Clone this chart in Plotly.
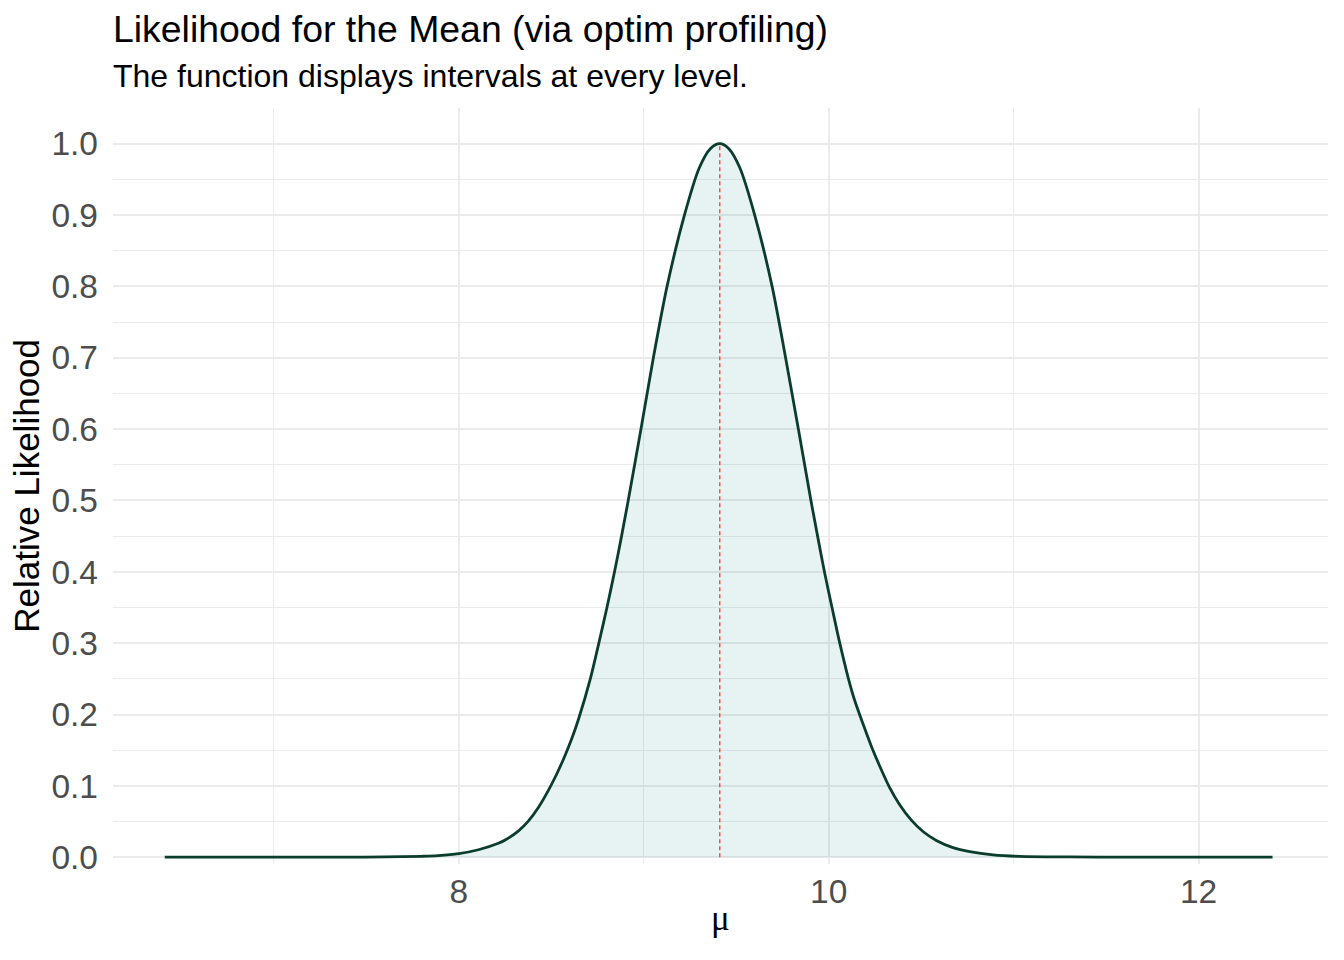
import plotly.graph_objects as go

# Profile likelihood
mu = [6.41, 7.0, 7.4, 7.6, 7.8, 7.889, 8.0, 8.106, 8.214, 8.253, 8.323, 8.377,
      8.431, 8.485, 8.530, 8.575, 8.612, 8.648, 8.711, 8.757, 8.801, 8.842,
      8.880, 8.916, 8.985, 9.052, 9.126, 9.220, 9.30, 9.36, 9.411, 9.46, 9.52,
      9.600, 9.694, 9.767, 9.836, 9.904, 9.940, 9.977, 10.018, 10.060, 10.107,
      10.139, 10.184, 10.230, 10.284, 10.329, 10.383, 10.447, 10.510, 10.582,
      10.672, 10.763, 10.889, 11.034, 11.3, 11.6, 12.0, 12.40]
rel_lik = [0.0, 0.0, 0.0001, 0.0004, 0.0013, 0.0022, 0.0050, 0.0105, 0.0196,
           0.0245, 0.037, 0.051, 0.070, 0.094, 0.117, 0.143, 0.167, 0.194, 0.25,
           0.30, 0.35, 0.40, 0.45, 0.50, 0.60, 0.70, 0.80, 0.90, 0.966, 0.993,
           1.0, 0.993, 0.966, 0.90, 0.80, 0.70, 0.60, 0.50, 0.45, 0.40, 0.35,
           0.30, 0.25, 0.221, 0.188, 0.156, 0.123, 0.098, 0.074, 0.052, 0.036,
           0.0235, 0.0135, 0.0078, 0.0033, 0.0012, 0.0004, 0.0001, 0.0, 0.0]
mle = 9.411

x_ticks = [8, 10, 12]
y_ticks = [0.0, 0.1, 0.2, 0.3, 0.4, 0.5, 0.6, 0.7, 0.8, 0.9, 1.0]

font = "Liberation Sans, Arial, sans-serif"
grid = "#EBEBEB"

fig = go.Figure()

# curve with shaded area underneath
fig.add_trace(go.Scatter(
    x=mu, y=rel_lik, mode="lines",
    line=dict(color="#0B3D2C", width=2.8, shape="spline", smoothing=0.8),
    fill="tozeroy", fillcolor="rgba(0,128,128,0.094)",
    hoverinfo="x+y", showlegend=False,
))

# dashed line at the maximum
fig.add_trace(go.Scatter(
    x=[mle, mle], y=[0, 1], mode="lines",
    line=dict(color="#F04A3C", width=1.4, dash="4px,3px"),
    hoverinfo="skip", showlegend=False,
))

# page body has an 8px margin, so the figure is 8px smaller and margins shifted
fig.update_layout(
    width=1336, height=952,
    margin=dict(l=105, r=16, t=100, b=96),
    paper_bgcolor="white", plot_bgcolor="white",
    font=dict(family=font, color="#4D4D4D"),
    xaxis=dict(
        range=[6.13, 12.70], tickvals=x_ticks, ticktext=[str(v) for v in x_ticks],
        showgrid=True, gridcolor=grid, gridwidth=2, zeroline=False,
        showline=False, ticks="", ticklabelstandoff=4,
        tickfont=dict(size=33.5, color="#4D4D4D"),
        minor=dict(tickvals=[7, 9, 11], showgrid=True, gridcolor=grid, gridwidth=1),
    ),
    yaxis=dict(
        range=[-0.0095, 1.05], tickvals=y_ticks, ticktext=[f"{v:.1f}" for v in y_ticks],
        showgrid=True, gridcolor=grid, gridwidth=2, zeroline=False,
        showline=False, ticks="", ticklabelstandoff=14,
        tickfont=dict(size=33.5, color="#4D4D4D"),
        minor=dict(dtick=0.05, tick0=0.05, showgrid=True, gridcolor=grid, gridwidth=1),
    ),
    annotations=[
        dict(text="Likelihood for the Mean (via optim profiling)", xref="paper", yref="paper",
             x=-0.002, y=1.1042, xanchor="left", yanchor="middle", showarrow=False,
             font=dict(size=37.4, color="black", family=font)),
        dict(text="The function displays intervals at every level.", xref="paper", yref="paper",
             x=-0.002, y=1.0419, xanchor="left", yanchor="middle", showarrow=False,
             font=dict(size=32, color="black", family=font)),
        dict(text="Relative Likelihood", xref="paper", yref="paper",
             x=-0.0718, y=0.5, xanchor="center", yanchor="middle", textangle=-90,
             showarrow=False, font=dict(size=35, color="black", family=font)),
        dict(text="μ", xref="paper", yref="paper",
             x=0.5, y=-0.0721, xanchor="center", yanchor="middle", showarrow=False,
             font=dict(size=35, color="black", family="Liberation Serif, DejaVu Serif, serif")),
    ],
)

fig.write_html("out.html")
